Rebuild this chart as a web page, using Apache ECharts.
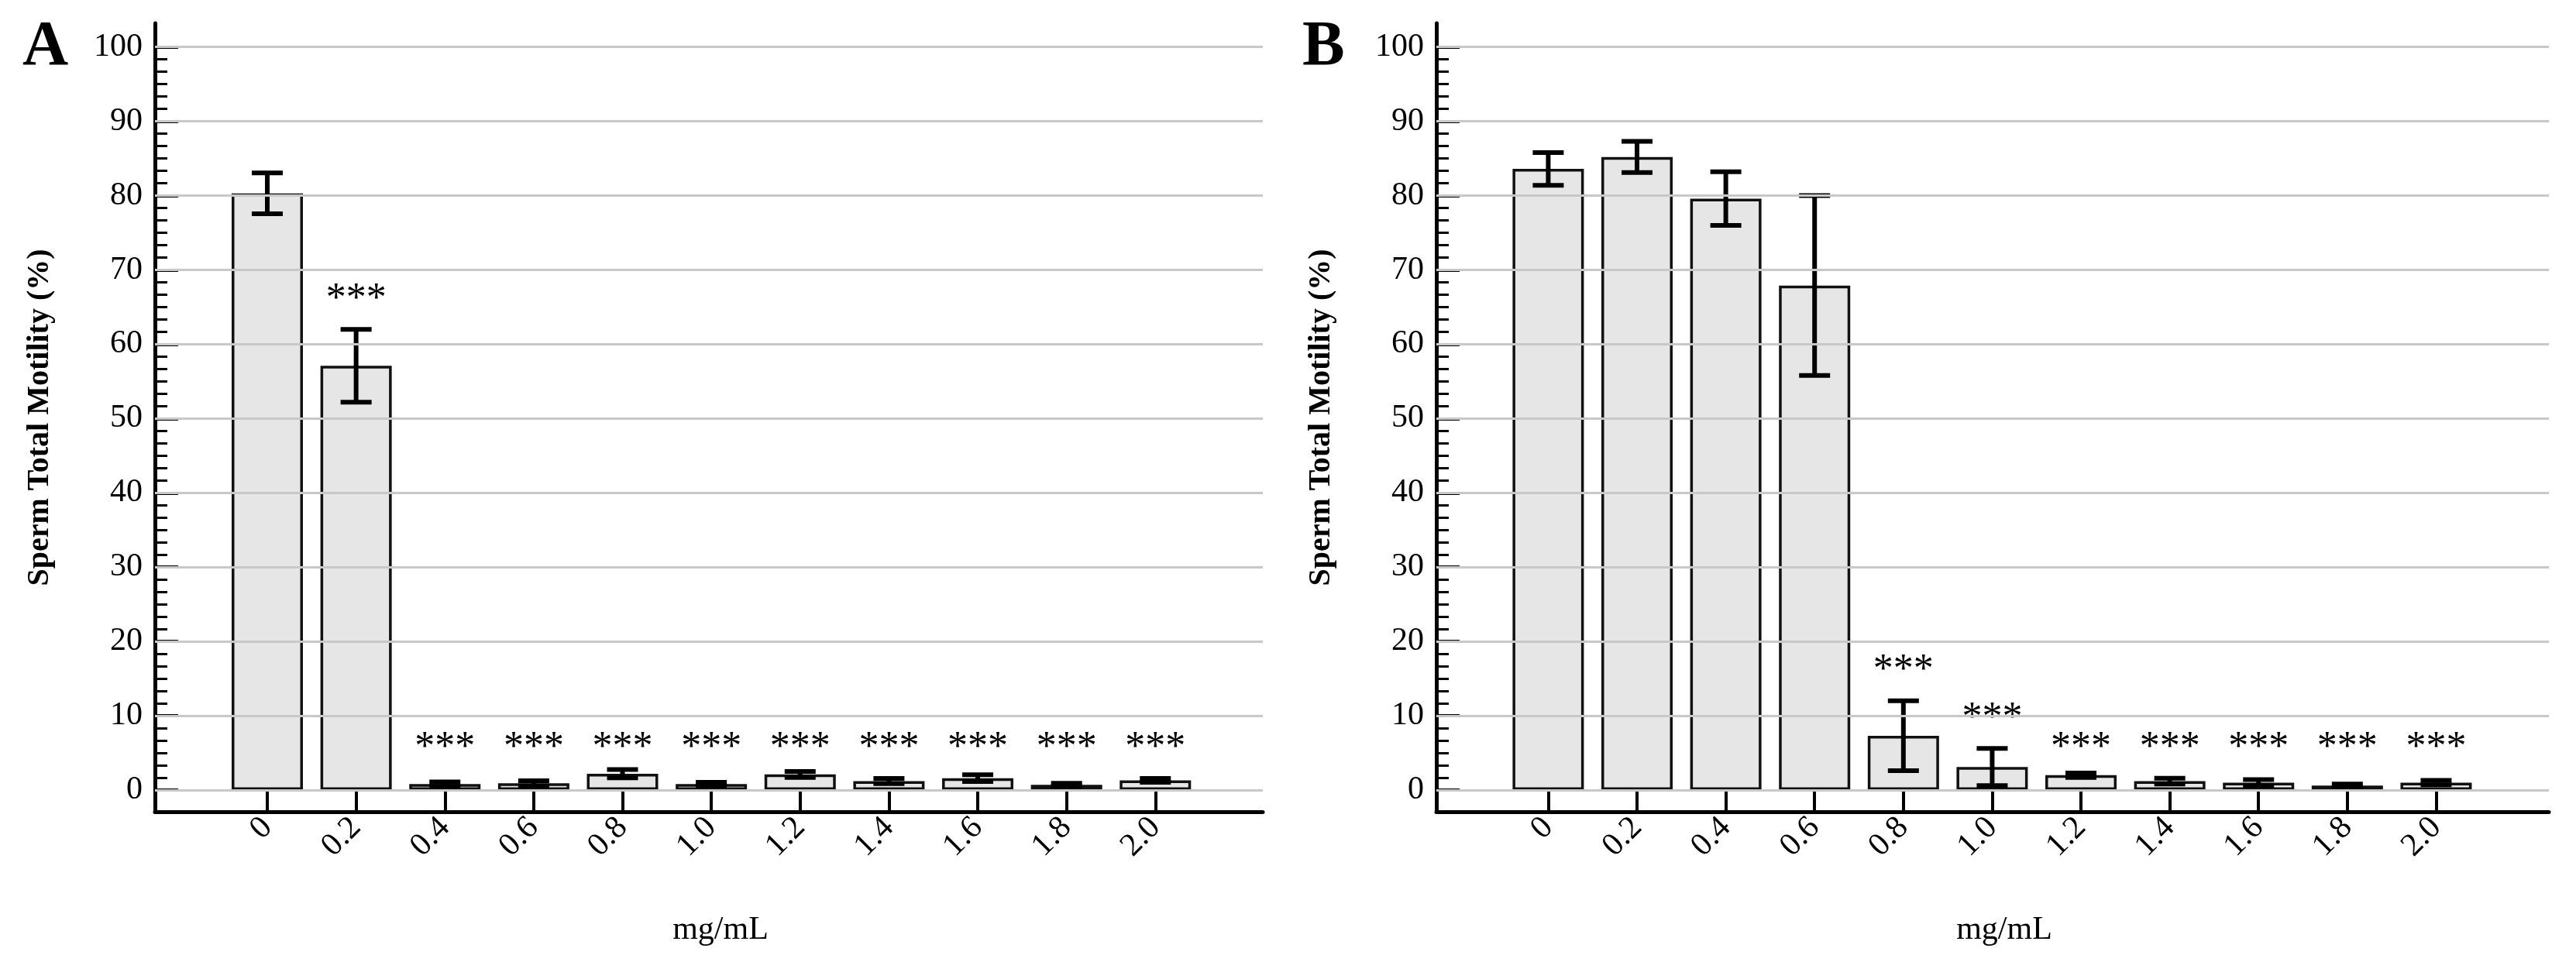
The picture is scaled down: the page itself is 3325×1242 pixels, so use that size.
<!DOCTYPE html>
<html>
<head>
    <meta charset="utf-8">
    <title>Sperm Total Motility</title>
    <script src="https://cdn.jsdelivr.net/npm/echarts@6/dist/echarts.min.js"></script>
    <style>
        html, body {
            margin: 0;
            padding: 0;
            background: #fff;
        }

        #chart {
            width: 3325px;
            height: 1242px;
        }
    </style>
</head>
<body>
<div id="chart"></div>

<script type="text/javascript">
    // concentrations (mg/mL)
    var doses = ['0', '0.2', '0.4', '0.6', '0.8', '1.0', '1.2', '1.4', '1.6', '1.8', '2.0'];
    var yTicks = [0, 10, 20, 30, 40, 50, 60, 70, 80, 90, 100];

    // panel A
    var meanA = [80.3, 57.1, 0.8, 0.9, 2.2, 0.8, 2.1, 1.2, 1.6, 0.7, 1.3];
    var errA = [2.75, 4.9, 0.3, 0.35, 0.55, 0.25, 0.4, 0.35, 0.45, 0.2, 0.25];
    var sigA = ['', '***', '***', '***', '***', '***', '***', '***', '***', '***', '***'];

    // panel B
    var meanB = [83.6, 85.2, 79.6, 67.9, 7.3, 3.1, 2.0, 1.2, 1.0, 0.6, 1.0];
    var errB = [2.2, 2.1, 3.6, 12.1, 4.7, 2.5, 0.3, 0.4, 0.4, 0.2, 0.3];
    var sigB = ['', '', '', '', '***', '***', '***', '***', '***', '***', '***'];

    var FONT = '"Liberation Serif", "Times New Roman", serif';

    var catIdx = doses.map(function (d, i) { return i; });
    var minorTicks = [];
    for (var i = 0; i < yTicks.length - 1; i++) {
        for (var k = 1; k < 6; k++) {
            minorTicks.push(yTicks[i] + k * (yTicks[i + 1] - yTicks[i]) / 6);
        }
    }

    var grids = [], xAxes = [], yAxes = [], series = [];

    function addPanel(g, left, right, xMin, xMax, mean, err, sig) {
        var width = 3325 - left - right;
        grids.push({left: left, right: right, top: 30, bottom: 194, containLabel: false});

        xAxes.push({
            gridIndex: g, type: 'value', min: xMin, max: xMax,
            name: 'mg/mL', nameLocation: 'middle', nameGap: 132,
            nameTextStyle: {fontFamily: FONT, fontSize: 42, color: '#000', padding: [0, 0, 0, 30]},
            axisLine: {show: true, onZero: false, lineStyle: {color: '#000', width: 5}},
            axisTick: {show: true, inside: true, length: 28, customValues: catIdx,
                lineStyle: {color: '#000', width: 4}},
            axisLabel: {show: true, customValues: catIdx, rotate: 45, margin: 14,
                fontFamily: FONT, fontSize: 42, color: '#000',
                formatter: function (v) { return doses[Math.round(v)]; }},
            splitLine: {show: false}
        });

        yAxes.push({
            gridIndex: g, type: 'value', min: -2.92, max: 103.2, position: 'left',
            name: 'Sperm Total Motility (%)', nameLocation: 'middle', nameRotate: 90, nameGap: 128,
            nameTextStyle: {fontFamily: FONT, fontSize: 40, fontWeight: 'bold', color: '#000'},
            axisLine: {show: true, onZero: false, lineStyle: {color: '#000', width: 5}},
            axisTick: {show: true, inside: true, length: 30, customValues: yTicks,
                lineStyle: {color: '#000', width: 4}},
            axisLabel: {show: true, customValues: yTicks, margin: 16,
                fontFamily: FONT, fontSize: 42, color: '#000'},
            splitLine: {show: false}
        });
        // minor ticks: second axis gets pushed to the right side, so pull it back onto the left edge
        yAxes.push({
            gridIndex: g, type: 'value', min: -2.92, max: 103.2, position: 'right', offset: -width,
            axisLine: {show: false, onZero: false},
            axisTick: {show: true, inside: false, length: 16, customValues: minorTicks,
                lineStyle: {color: '#000', width: 3}},
            axisLabel: {show: false},
            splitLine: {show: false}
        });

        var pts = mean.map(function (v, i) { return [i, v]; });

        // grid lines
        series.push({
            type: 'line', xAxisIndex: g, yAxisIndex: 2 * g, data: pts, z: 1,
            showSymbol: false, lineStyle: {opacity: 0}, silent: true,
            markLine: {
                silent: true, symbol: ['none', 'none'], label: {show: false},
                lineStyle: {color: '#c8c8c8', width: 3, type: 'solid'},
                data: yTicks.map(function (v) { return {yAxis: v}; })
            }
        });

        series.push({
            type: 'bar', xAxisIndex: g, yAxisIndex: 2 * g, data: pts, z: 2,
            barWidth: 92,
            itemStyle: {color: '#e6e6e6', borderColor: '#111', borderWidth: 3.5}
        });

        series.push({
            type: 'custom', xAxisIndex: g, yAxisIndex: 2 * g, z: 3,
            data: mean.map(function (v, i) { return [i, v - err[i], v + err[i]]; }),
            encode: {x: 0, y: [1, 2]},
            renderItem: function (params, api) {
                var x = api.value(0);
                var lo = api.coord([x, api.value(1)]);
                var hi = api.coord([x, api.value(2)]);
                var st = {stroke: '#000', lineWidth: 6};
                return {
                    type: 'group', children: [
                        {type: 'line', shape: {x1: hi[0], y1: hi[1], x2: lo[0], y2: lo[1]}, style: st},
                        {type: 'line', shape: {x1: hi[0] - 20, y1: hi[1], x2: hi[0] + 20, y2: hi[1]}, style: st},
                        {type: 'line', shape: {x1: lo[0] - 20, y1: lo[1], x2: lo[0] + 20, y2: lo[1]}, style: st}
                    ]
                };
            }
        });

        // significance stars: above the error bar, or on a common line for the tiny bars
        series.push({
            type: 'custom', xAxisIndex: g, yAxisIndex: 2 * g, z: 4,
            data: mean.map(function (v, i) {
                var top = v + err[i];
                return [i, top > 5 ? top + 4.8 : 6.4];
            }),
            encode: {x: 0, y: 1},
            renderItem: function (params, api) {
                var s = sig[params.dataIndex];
                if (!s) return null;
                var p = api.coord([api.value(0), api.value(1)]);
                return {
                    type: 'text',
                    style: {x: p[0], y: p[1] + 8, text: s, align: 'center', verticalAlign: 'middle',
                        font: '52px ' + FONT, fill: '#000'}
                };
            }
        });
    }

    addPanel(0, 200, 1695, -1.265, 11.21, meanA, errA, sigA);
    addPanel(1, 1854, 35, -1.26, 11.27, meanB, errB, sigB);

    var myChart = echarts.init(document.getElementById('chart'));
    var option = {
        animation: false,
        backgroundColor: '#fff',
        title: [
            {text: 'A', left: 24, top: 16, textStyle: {fontFamily: FONT, fontSize: 82, fontWeight: 'bold', color: '#000'}},
            {text: 'B', left: 1676, top: 16, textStyle: {fontFamily: FONT, fontSize: 82, fontWeight: 'bold', color: '#000'}}
        ],
        grid: grids,
        xAxis: xAxes,
        yAxis: yAxes,
        series: series
    };
    myChart.setOption(option);
</script>

</body>
</html>
